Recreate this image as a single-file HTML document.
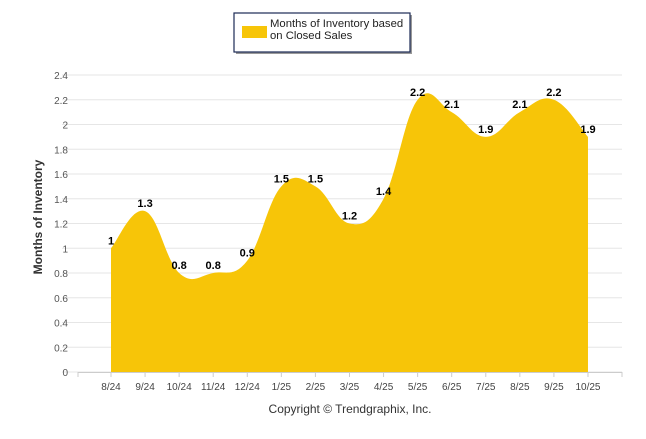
<!DOCTYPE html>
<html><head><meta charset="utf-8"><style>
body{margin:0;background:#fff;font-family:"Liberation Sans",Arial,sans-serif}
svg text{font-family:"Liberation Sans",Arial,sans-serif}
</style></head><body>
<svg id="c" width="646" height="434">
<g>
<rect x="236" y="15" width="176" height="39" fill="#999"/>
<rect x="234" y="13" width="176" height="39" fill="#fff" stroke="#1c2a55" stroke-width="1.2"/>
<rect x="242" y="26" width="25" height="12" fill="#f7c508"/>
<text x="270" y="27" font-size="11.3" fill="#222">Months of Inventory based</text>
<text x="270" y="39" font-size="11.3" fill="#222">on Closed Sales</text>
</g>
<g id="grid"></g><g id="area"></g><g id="labels"></g>
<text transform="translate(42,217) rotate(-90)" text-anchor="middle" font-size="12" font-weight="bold" fill="#333">Months of Inventory</text>
<text x="350" y="413" text-anchor="middle" font-size="12" fill="#333">Copyright © Trendgraphix, Inc.</text>
</svg>
<script>
const categories=["8/24","9/24","10/24","11/24","12/24","1/25","2/25","3/25","4/25","5/25","6/25","7/25","8/25","9/25","10/25"];
const values=[1,1.3,0.8,0.8,0.9,1.5,1.5,1.2,1.4,2.2,2.1,1.9,2.1,2.2,1.9];
const yTicks=[0,0.2,0.4,0.6,0.8,1,1.2,1.4,1.6,1.8,2,2.2,2.4];
const NS="http://www.w3.org/2000/svg";
const y=v=>372-v*(297/2.4);
const x=i=>111+i*34.07;
const g=document.getElementById('grid'),a=document.getElementById('area'),l=document.getElementById('labels');
function mk(t,at,p){const e=document.createElementNS(NS,t);for(const k in at)e.setAttribute(k,at[k]);p.appendChild(e);return e;}
yTicks.forEach(t=>{
 const ln=mk('line',{x1:62,x2:622,y1:y(t),y2:y(t),stroke:'#e6e6e6','stroke-width':1},g);
 
 
 const tx=mk('text',{x:68,y:y(t)+4,'text-anchor':'end','font-size':10,fill:'#555'},g);tx.textContent=t;
 
 
});
const ax=mk('line',{x1:78,x2:622,y1:372.5,y2:372.5,stroke:'#ccc'},g);


[78].concat(categories.map((c,i)=>x(i))).concat([622]).forEach(px=>{
 const tk=mk('line',{x1:px,x2:px,y1:372,y2:377,stroke:'#ccc'},g);
 
 
});
categories.forEach((c,i)=>{
 const tx=mk('text',{x:x(i),y:390,'text-anchor':'middle','font-size':10,fill:'#444'},g);tx.textContent=c;
 
 
});
const P=values.map((v,i)=>[x(i),y(v)]);
let d=`M${P[0][0]},372 L${P[0][0]},${P[0][1]}`;
for(let i=0;i<P.length-1;i++){
 const p0=P[Math.max(0,i-1)],p1=P[i],p2=P[i+1],p3=P[Math.min(P.length-1,i+2)];
 const t=0.2;
 const c1=[p1[0]+(p2[0]-p0[0])*t,p1[1]+(p2[1]-p0[1])*t];
 const c2=[p2[0]-(p3[0]-p1[0])*t,p2[1]-(p3[1]-p1[1])*t];
 d+=` C${c1[0]},${c1[1]} ${c2[0]},${c2[1]} ${p2[0]},${p2[1]}`;
}
d+=` L${P[P.length-1][0]},372 Z`;
const ar=mk('path',{d:d,fill:'#f7c508'},a);


values.forEach((v,i)=>{
 const tx=mk('text',{x:x(i),y:y(v)-4,'text-anchor':'middle','font-size':11,'font-weight':'bold',fill:'#000'},l);tx.textContent=v;
 
 
});
</script>
</body></html>
